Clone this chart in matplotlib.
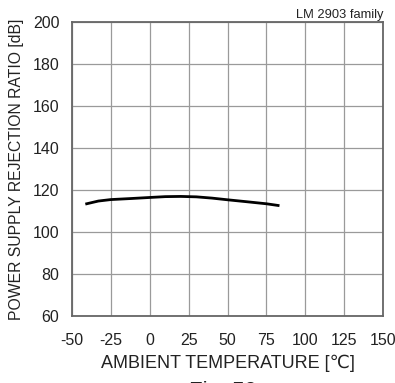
import numpy as np
import matplotlib
matplotlib.use('Agg')
import matplotlib.pyplot as plt

plt.rcParams['font.family'] = ['Liberation Sans', 'DejaVu Sans']

# 读图得到的数据
temp = [-40.5, -33, -25, -12, 0, 10, 20, 30, 40, 50, 62, 75, 82.5]
psrr = [113.4, 114.7, 115.4, 115.9, 116.4, 116.8, 116.9, 116.7, 116.1, 115.3, 114.4, 113.4, 112.6]

xticks = [-50, -25, 0, 25, 50, 75, 100, 125, 150]
yticks = [60, 80, 100, 120, 140, 160, 180, 200]

fig = plt.figure(figsize=(3.95, 3.83), dpi=100)
ax = fig.add_axes([0.182, 0.175, 0.788, 0.768])

ax.plot(temp, psrr, color='black', linewidth=2.0)

ax.set_xlim(-50, 150)
ax.set_ylim(60, 200)
ax.set_xticks(xticks)
ax.set_yticks(yticks)
ax.set_xticklabels([str(t) for t in xticks], fontsize=11.5)
ax.set_yticklabels([str(t) for t in yticks], fontsize=11.5)
ax.tick_params(length=0, pad=9, colors='#222222')
ax.tick_params(axis='x', pad=12)
ax.grid(True, color='#9a9a9a', linewidth=0.9)
for s in ax.spines.values():
    s.set_color('#666666')
    s.set_linewidth(1.3)

ax.set_xlabel('AMBIENT TEMPERATURE [\u2103]', fontsize=13, labelpad=5, color='#222222')
ax.set_ylabel('POWER SUPPLY REJECTION RATIO [dB]', fontsize=11.3, labelpad=6, color='#222222')

fig.text(0.97, 0.945, 'LM 2903 family', fontsize=9.3, ha='right', va='bottom', color='#222222')
fig.text(0.565, -0.022, 'Fig. 59', fontsize=16, ha='center', va='center', color='#222222')

fig.savefig('out.png', dpi=100)
